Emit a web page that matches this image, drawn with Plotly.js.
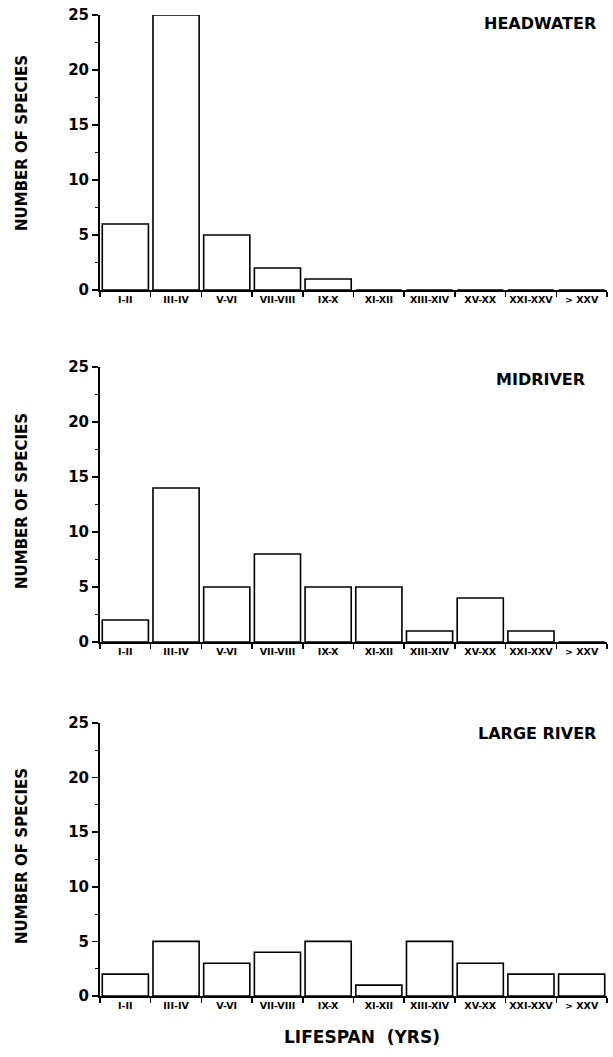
<!DOCTYPE html>
<html>
<head>
<meta charset="utf-8">
<script src="https://cdn.plot.ly/plotly-3.0.1.min.js"></script>
<style>html,body{margin:0;padding:0;background:#fff;}#chart{width:613px;height:1057px;}</style>
</head>
<body>
<div id="chart"></div>
<script>
const categories = ["I-II","III-IV","V-VI","VII-VIII","IX-X","XI-XII","XIII-XIV","XV-XX","XXI-XXV","> XXV"];
const headwater  = [6, 25, 5, 2, 1, 0, 0, 0, 0, 0];
const midriver   = [2, 14, 5, 8, 5, 5, 1, 4, 1, 0];
const largeRiver = [2, 5, 3, 4, 5, 1, 5, 3, 2, 2];
const panelTitles = ["HEADWATER", "MIDRIVER", "LARGE RIVER"];
const yTitle = "NUMBER OF SPECIES";
const xTitle = "LIFESPAN  (YRS)";
const yTicks = [0, 5, 10, 15, 20, 25];

const FONT = "DejaVu Sans, Liberation Sans, Arial, sans-serif";
const series = [headwater, midriver, largeRiver];
const axSuffix = ["", "2", "3"];

const traces = series.map((vals, i) => ({
  type: "bar",
  x: categories,
  y: vals,
  xaxis: "x" + axSuffix[i],
  yaxis: "y" + axSuffix[i],
  marker: {color: "#ffffff", line: {color: "#000000", width: 1.6}},
  hoverinfo: "x+y",
  showlegend: false
}));

// vertical domains of the three panels (paper fraction)
const domains = [[0.7197, 1.0], [0.3609, 0.6412], [0.0, 0.2783]];

const layout = {
  width: 613, height: 1057,
  margin: {l: 100, r: 6, t: 15, b: 61},
  paper_bgcolor: "#ffffff", plot_bgcolor: "#ffffff",
  bargap: 0.09,
  font: {family: FONT, color: "#000"},
  annotations: []
};

domains.forEach((d, i) => {
  const xa = "xaxis" + axSuffix[i];
  const ya = "yaxis" + axSuffix[i];
  layout[xa] = {
    type: "category",
    categoryorder: "array", categoryarray: categories,
    range: [-0.5, 9.5],
    anchor: "y" + axSuffix[i],
    domain: [0, 1],
    showline: true, linecolor: "#000", linewidth: 2,
    ticks: "outside", tickson: "boundaries", ticklen: 5, tickwidth: 1.5, tickcolor: "#000",
    tickfont: {family: FONT, size: 9.5, color: "#000", weight: "bold"},
    tickangle: 0,
    showgrid: false, zeroline: false, fixedrange: true
  };
  layout[ya] = {
    range: [0, 25],
    anchor: "x" + axSuffix[i],
    domain: d,
    tickvals: yTicks,
    showline: true, linecolor: "#000", linewidth: 2,
    ticks: "outside", ticklen: 6, tickwidth: 1.5, tickcolor: "#000",
    minor: {dtick: 2.5, ticks: "outside", ticklen: 3, tickwidth: 1, tickcolor: "#000"},
    tickfont: {family: FONT, size: 15, color: "#000", weight: "bold"},
    showgrid: false, zeroline: false, fixedrange: true
  };
});

// y-axis titles (rotated) – placed at x≈22px
const yTitleCenters = [143, 501, 856];
yTitleCenters.forEach(py => {
  layout.annotations.push({
    text: yTitle, textangle: -90,
    xref: "paper", yref: "paper",
    x: (22 - 100) / 507, y: (996 - py) / 981,
    xanchor: "center", yanchor: "middle", showarrow: false,
    font: {family: FONT, size: 15, color: "#000", weight: "bold"}
  });
});

// panel titles, right aligned
const titleRight = [598, 587, 598];
const titleY = [23.5, 379, 733];
panelTitles.forEach((t, i) => {
  layout.annotations.push({
    text: t,
    xref: "paper", yref: "paper",
    x: (titleRight[i] - 100) / 507, y: (996 - titleY[i]) / 981,
    xanchor: "right", yanchor: "middle", showarrow: false,
    font: {family: FONT, size: 16, color: "#000", weight: "bold"}
  });
});

// x-axis title
layout.annotations.push({
  text: xTitle,
  xref: "paper", yref: "paper",
  x: (362 - 100) / 507, y: (996 - 1037) / 981,
  xanchor: "center", yanchor: "middle", showarrow: false,
  font: {family: FONT, size: 17, color: "#000", weight: "bold"}
});

Plotly.newPlot("chart", traces, layout, {displayModeBar: false, staticPlot: true});
</script>
</body>
</html>
